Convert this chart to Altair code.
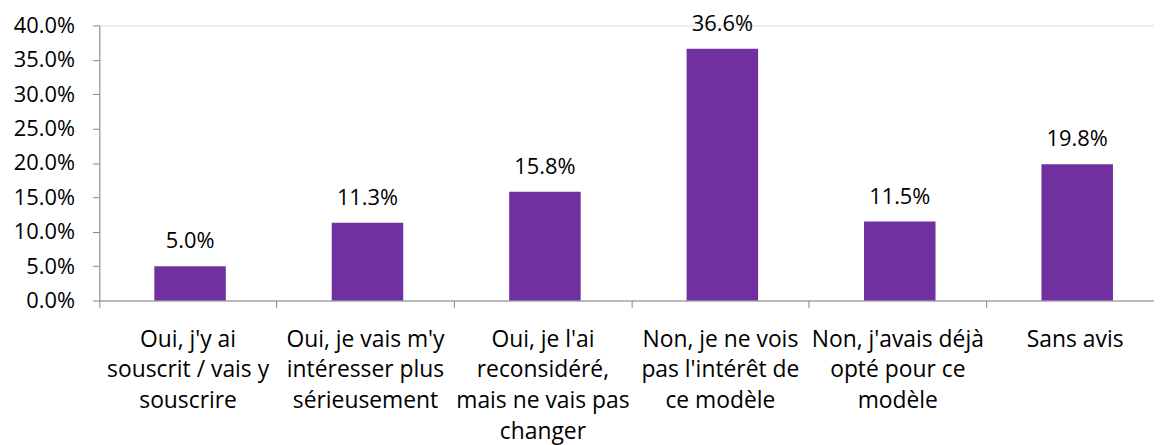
import altair as alt
import pandas as pd

categories = [
    "Oui, j'y ai|souscrit / vais y|souscrire",
    "Oui, je vais m'y|intéresser plus|sérieusement",
    "Oui, je l'ai|reconsidéré,|mais ne vais pas|changer",
    "Non, je ne vois|pas l'intérêt de|ce modèle",
    "Non, j'avais déjà|opté pour ce|modèle",
    "Sans avis",
]
values = [0.050, 0.113, 0.158, 0.366, 0.115, 0.198]
y_ticks = [0, 0.05, 0.10, 0.15, 0.20, 0.25, 0.30, 0.35, 0.40]

df = pd.DataFrame({"cat": categories, "val": values})

FONT = "Open Sans"
XSCALE = alt.Scale(range=[0, 1072], paddingInner=0, paddingOuter=0)
YSCALE = alt.Scale(domain=[0, 0.40], nice=False)

x = alt.X(
    "cat:N",
    sort=categories,
    title=None,
    scale=XSCALE,
    axis=alt.Axis(
        labelExpr="split(datum.label, '|')",
        labelAngle=0,
        labelFont=FONT,
        labelFontSize=23,
        labelColor="#000000",
        labelLineHeight=31,
        labelPadding=32,
        labelBaseline="middle",
        labelLimit=300,
        labelOverlap=False,
        bandPosition=0,
        tickSize=7,
        tickColor="#868686",
        domainColor="#868686",
        grid=False,
    ),
)

y = alt.Y(
    "val:Q",
    title=None,
    scale=YSCALE,
    axis=alt.Axis(
        values=y_ticks,
        format=".1%",
        labelFont=FONT,
        labelFontSize=22,
        labelColor="#000000",
        labelPadding=18,
        labelOverlap=False,
        tickSize=7,
        tickColor="#868686",
        domainColor="#868686",
        grid=False,
    ),
)

base = alt.Chart(df).encode(x=x, y=y)

bars = base.mark_bar(size=72, color="#7030A0", xOffset=2)

labels = base.mark_text(
    baseline="alphabetic", dy=-18, dx=2, font=FONT, fontSize=22, color="#000000"
).encode(text=alt.Text("val:Q", format=".1%"))

chart = (
    alt.layer(bars, labels)
    .properties(
        width=1062,
        height=277,
        autosize=alt.AutoSizeParams(type="none"),
        padding={"left": 92, "top": 16, "right": 0, "bottom": 152},
    )
    .configure_view(stroke=None)
    .configure(background="#ffffff")
)

chart.save("out.html", embed_options={"renderer": "svg", "actions": False})
